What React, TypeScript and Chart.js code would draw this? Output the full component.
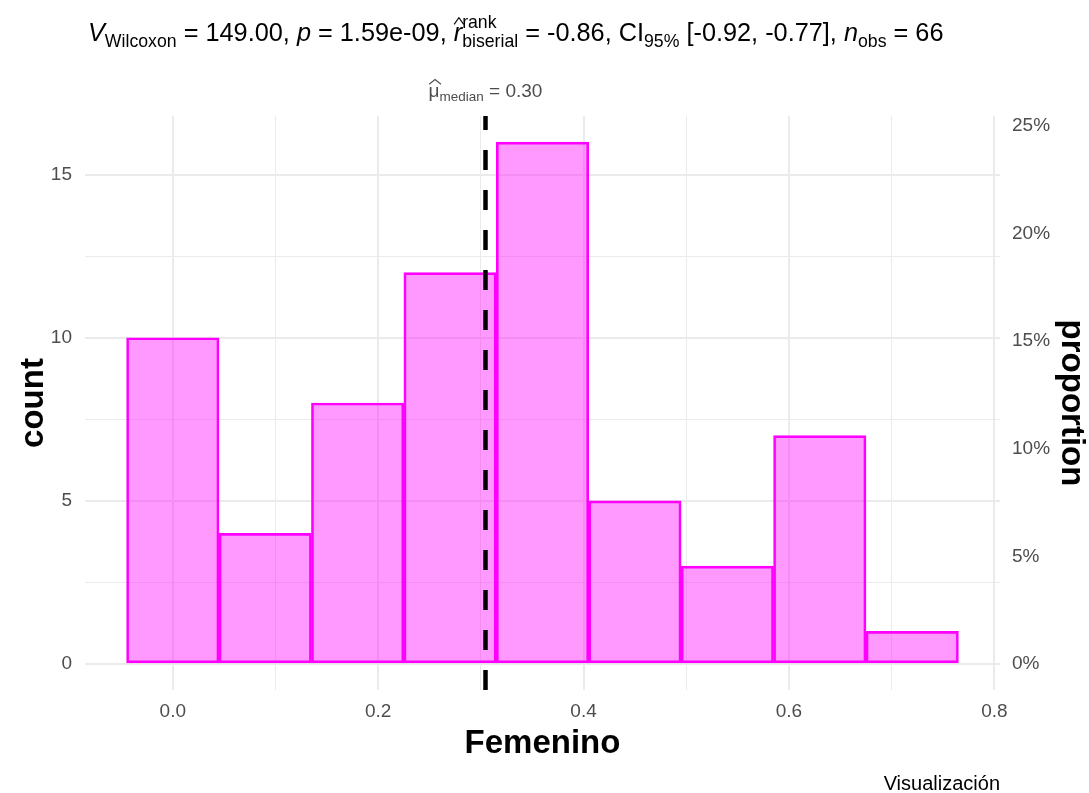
import React, { useEffect, useRef } from 'react';
import { Chart, registerables } from 'chart.js';

Chart.register(...registerables);

// Histogram bins (centre of each bin) and their counts
const binCenters = [0, 0.09, 0.18, 0.27, 0.36, 0.45, 0.54, 0.63, 0.72];
const counts = [10, 4, 8, 12, 16, 5, 3, 7, 1];
const binWidth = 0.09;

// Axis ticks
const xTicks = [0, 0.1, 0.2, 0.3, 0.4, 0.5, 0.6, 0.7, 0.8];
const countTicks = [0, 2.5, 5, 7.5, 10, 12.5, 15];
const proportionTicks = [0, 0.05, 0.1, 0.15, 0.2, 0.25];

// Test statistics shown above the plot
const medianValue = 0.3045;
const statV = '149.00';
const statP = '1.59e-09';
const statR = '-0.86';
const statCI = '[-0.92, -0.77]';

const FONT = '"Liberation Sans", Arial, Helvetica, sans-serif';
const TICK_COLOR = '#4D4D4D';

type Piece = { text: string; size: number; italic?: boolean; dy?: number; hat?: boolean };
type Stack = { sup: string; sub: string; size: number; supDy: number; subDy: number };
type Item = Piece | Stack;

const fontOf = (size: number, italic?: boolean, bold?: boolean) =>
  `${italic ? 'italic ' : ''}${bold ? 'bold ' : ''}${size}px ${FONT}`;

function richWidth(ctx: CanvasRenderingContext2D, items: Item[]) {
  let w = 0;
  for (const it of items) {
    if ('sup' in it) {
      ctx.font = fontOf(it.size);
      w += Math.max(ctx.measureText(it.sup).width, ctx.measureText(it.sub).width);
    } else {
      ctx.font = fontOf(it.size, it.italic);
      w += ctx.measureText(it.text).width;
    }
  }
  return w;
}

function drawRich(ctx: CanvasRenderingContext2D, x: number, baseline: number, items: Item[], color: string) {
  let cx = x;
  ctx.fillStyle = color;
  ctx.strokeStyle = color;
  ctx.textAlign = 'left';
  ctx.textBaseline = 'alphabetic';
  for (const it of items) {
    if ('sup' in it) {
      ctx.font = fontOf(it.size);
      const w1 = ctx.measureText(it.sup).width;
      const w2 = ctx.measureText(it.sub).width;
      ctx.fillText(it.sup, cx, baseline + it.supDy);
      ctx.fillText(it.sub, cx, baseline + it.subDy);
      cx += Math.max(w1, w2);
    } else {
      ctx.font = fontOf(it.size, it.italic);
      const w = ctx.measureText(it.text).width;
      const y = baseline + (it.dy || 0);
      ctx.fillText(it.text, cx, y);
      if (it.hat) {
        const top = y - it.size * 0.62;
        ctx.beginPath();
        ctx.lineWidth = 1.1;
        ctx.moveTo(cx + w * 0.05, top - 1);
        ctx.lineTo(cx + w * 0.5 + 1, top - it.size * 0.3);
        ctx.lineTo(cx + w * 0.95 + 2, top - 1);
        ctx.stroke();
      }
      cx += w;
    }
  }
}

export default function App() {
  const ref = useRef<HTMLCanvasElement>(null);

  useEffect(() => {
    const canvas = ref.current;
    if (!canvas) return;
    const total = counts.reduce((a, b) => a + b, 0);
    const xMin = binCenters[0] - binWidth / 2;
    const xMax = binCenters[binCenters.length - 1] + binWidth / 2;
    const xPad = (xMax - xMin) * 0.05;
    const yMax = Math.max(...counts);
    const yPad = yMax * 0.05;

    const titleItems: Item[] = [
      { text: 'V', size: 25.3, italic: true },
      { text: 'Wilcoxon', size: 17.7, dy: 6 },
      { text: ` = ${statV}, `, size: 25.3 },
      { text: 'p', size: 25.3, italic: true },
      { text: ` = ${statP}, `, size: 25.3 },
      { text: 'r', size: 25.3, italic: true, hat: true },
      { sup: 'rank', sub: 'biserial', size: 17.7, supDy: -13, subDy: 6 },
      { text: ` = ${statR}, CI`, size: 25.3 },
      { text: '95%', size: 17.7, dy: 6 },
      { text: ` ${statCI}, `, size: 25.3 },
      { text: 'n', size: 25.3, italic: true },
      { text: 'obs', size: 17.7, dy: 6 },
      { text: ` = ${total}`, size: 25.3 },
    ];

    const medianItems: Item[] = [
      { text: 'μ', size: 19, hat: true },
      { text: 'median', size: 13.5, dy: 4 },
      { text: ` = ${medianValue.toFixed(2)}`, size: 19 },
    ];

    const annotations = {
      id: 'annotations',
      afterDatasetsDraw(chart: any) {
        const { ctx, chartArea, scales } = chart;
        const px = scales.x.getPixelForValue(medianValue);
        ctx.save();
        ctx.strokeStyle = '#000000';
        ctx.lineWidth = 4.5;
        ctx.setLineDash([20, 20]);
        ctx.beginPath();
        ctx.moveTo(px, chartArea.bottom);
        ctx.lineTo(px, chartArea.top);
        ctx.stroke();
        ctx.restore();
      },
      afterDraw(chart: any) {
        const { ctx, chartArea, scales } = chart;
        ctx.save();
        // statistics line
        drawRich(ctx, 88, 41, titleItems, '#000000');
        // median label on top of the dashed line
        const px = scales.x.getPixelForValue(medianValue);
        const mw = richWidth(ctx, medianItems);
        drawRich(ctx, px - mw / 2, 97, medianItems, TICK_COLOR);

        const cy = (chartArea.top + chartArea.bottom) / 2;
        ctx.fillStyle = '#000000';
        ctx.font = fontOf(33, false, true);
        ctx.textAlign = 'center';
        ctx.textBaseline = 'middle';
        // left axis title
        ctx.save();
        ctx.translate(34, cy);
        ctx.rotate(-Math.PI / 2);
        ctx.fillText('count', 0, 0);
        ctx.restore();
        // right axis title
        ctx.save();
        ctx.translate(1071, cy);
        ctx.rotate(Math.PI / 2);
        ctx.fillText('proportion', 0, 0);
        ctx.restore();
        // x axis title
        ctx.fillText('Femenino', (chartArea.left + chartArea.right) / 2, 744);
        // caption
        ctx.font = fontOf(20);
        ctx.textAlign = 'right';
        ctx.textBaseline = 'alphabetic';
        ctx.fillText('Visualización', 1000, 790);
        ctx.restore();
      },
    };

    const chart = new Chart(canvas, {
      type: 'bar',
      data: {
        datasets: [
          {
            data: binCenters.map((x, i) => ({ x, y: counts[i] })),
            backgroundColor: 'rgba(255, 0, 255, 0.4)',
            borderColor: '#FF00FF',
            borderWidth: 2,
            borderSkipped: false,
            barPercentage: 1,
            categoryPercentage: 1,
            xAxisID: 'x',
            yAxisID: 'y',
          } as any,
        ],
      },
      options: {
        responsive: false,
        animation: false,
        events: [],
        layout: { padding: { top: 116, left: 0, right: 0, bottom: 0 } },
        plugins: {
          legend: { display: false },
          tooltip: { enabled: false },
          title: { display: false },
        },
        scales: {
          x: {
            type: 'linear',
            position: 'bottom',
            offset: false,
            min: xMin - xPad,
            max: xMax + xPad,
            afterBuildTicks: (s: any) => {
              s.ticks = xTicks.map((v) => ({ value: v }));
            },
            afterFit: (s: any) => {
              s.height = 103;
            },
            ticks: {
              autoSkip: false,
              maxRotation: 0,
              padding: 10,
              color: TICK_COLOR,
              font: { family: FONT, size: 19 },
              callback: (v: any, i: number) => (i % 2 === 0 ? Number(v).toFixed(1) : ''),
            },
            grid: {
              offset: false,
              drawTicks: false,
              color: '#EBEBEB',
              lineWidth: (c: any) => (Math.round(c.tick.value * 10) % 2 === 0 ? 2 : 1),
            },
            border: { display: false },
          },
          y: {
            type: 'linear',
            position: 'left',
            min: -yPad,
            max: yMax + yPad,
            afterBuildTicks: (s: any) => {
              s.ticks = countTicks.map((v) => ({ value: v }));
            },
            afterFit: (s: any) => {
              s.width = 85;
            },
            ticks: {
              autoSkip: false,
              padding: 13,
              color: TICK_COLOR,
              font: { family: FONT, size: 19 },
              callback: (v: any) => (Number(v) % 5 === 0 ? String(v) : ''),
            },
            grid: {
              drawTicks: false,
              color: '#EBEBEB',
              lineWidth: (c: any) => (c.tick.value % 5 === 0 ? 2 : 1),
            },
            border: { display: false },
          },
          y2: {
            type: 'linear',
            position: 'right',
            min: -yPad / total,
            max: (yMax + yPad) / total,
            afterBuildTicks: (s: any) => {
              s.ticks = proportionTicks.map((v) => ({ value: v }));
            },
            afterFit: (s: any) => {
              s.width = 89;
            },
            ticks: {
              autoSkip: false,
              padding: 12,
              color: TICK_COLOR,
              font: { family: FONT, size: 19 },
              callback: (v: any) => `${Math.round(Number(v) * 100)}%`,
            },
            grid: { display: false, drawTicks: false },
            border: { display: false },
          },
        },
      } as any,
      plugins: [annotations],
    });

    return () => chart.destroy();
  }, []);

  return (
    <div style={{ position: 'absolute', left: 0, top: 0, width: 1089, height: 793, background: '#ffffff' }}>
      <canvas ref={ref} width={1089} height={793} style={{ display: 'block' }} />
    </div>
  );
}
